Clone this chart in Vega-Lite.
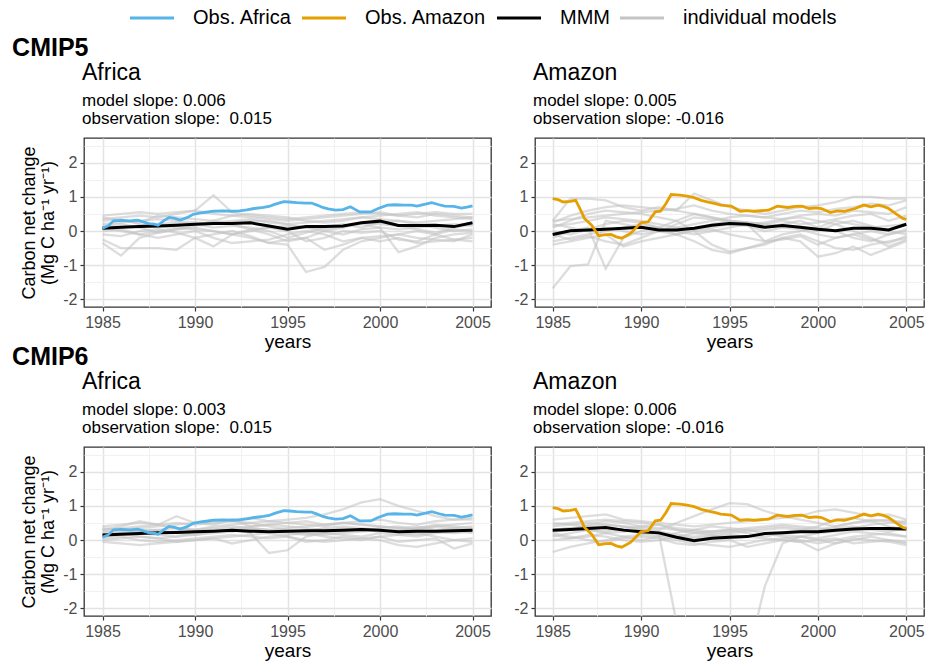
{
  "$schema": "https://vega.github.io/schema/vega-lite/v6.json",
  "background": "white",
  "padding": {"left": 12, "top": 5, "right": 6, "bottom": 2},
  "config": {
    "font": "Liberation Sans",
    "view": {"stroke": "#333333", "strokeWidth": 1.3},
    "axis": {
      "domain": false,
      "labelFont": "Liberation Sans",
      "labelFontSize": 16,
      "labelColor": "#4d4d4d",
      "tickColor": "#333333",
      "tickWidth": 1.2,
      "tickSize": 4,
      "labelPadding": 3,
      "titleFont": "Liberation Sans",
      "titleFontWeight": "normal",
      "titleColor": "black"
    },
    "axisX": {"titleFontSize": 19, "titlePadding": 2},
    "axisY": {"titleFontSize": 18, "titleLineHeight": 19, "titlePadding": 5},
    "title": {
      "anchor": "start",
      "frame": "group",
      "font": "Liberation Sans",
      "fontSize": 23,
      "fontWeight": "normal",
      "color": "black",
      "subtitleFont": "Liberation Sans",
      "subtitleFontSize": 17,
      "subtitleColor": "black",
      "subtitlePadding": 8,
      "subtitleLineHeight": 18,
      "offset": 11,
      "dx": -2
    },
    "legend": {
      "labelFont": "Liberation Sans",
      "labelFontSize": 20,
      "labelColor": "black"
    }
  },
  "resolve": {"scale": {"color": "shared"}, "legend": {"color": "shared"}},
  "spacing": -7,
  "datasets": {
    "obsAfrica": [
      {"t":1985.0,"v":0.08},{"t":1985.3,"v":0.15},{"t":1985.6,"v":0.30},{"t":1986.0,"v":0.31},{"t":1986.5,"v":0.30},
      {"t":1986.9,"v":0.32},{"t":1987.2,"v":0.27},{"t":1987.5,"v":0.22},{"t":1987.8,"v":0.20},{"t":1988.0,"v":0.17},
      {"t":1988.3,"v":0.30},{"t":1988.6,"v":0.40},{"t":1988.9,"v":0.37},{"t":1989.2,"v":0.32},{"t":1989.6,"v":0.40},
      {"t":1989.9,"v":0.49},{"t":1990.3,"v":0.53},{"t":1990.6,"v":0.55},{"t":1991.0,"v":0.58},{"t":1991.5,"v":0.59},
      {"t":1992.0,"v":0.58},{"t":1992.4,"v":0.59},{"t":1992.8,"v":0.62},{"t":1993.2,"v":0.66},{"t":1993.7,"v":0.69},
      {"t":1994.0,"v":0.72},{"t":1994.3,"v":0.78},{"t":1994.8,"v":0.86},{"t":1995.1,"v":0.85},{"t":1995.5,"v":0.83},
      {"t":1996.0,"v":0.82},{"t":1996.3,"v":0.82},{"t":1996.6,"v":0.76},{"t":1996.9,"v":0.69},{"t":1997.2,"v":0.65},
      {"t":1997.6,"v":0.61},{"t":1998.0,"v":0.63},{"t":1998.4,"v":0.71},{"t":1998.7,"v":0.62},{"t":1998.9,"v":0.56},
      {"t":1999.5,"v":0.56},{"t":1999.9,"v":0.66},{"t":2000.4,"v":0.76},{"t":2000.8,"v":0.77},{"t":2001.3,"v":0.76},
      {"t":2001.7,"v":0.76},{"t":2002.0,"v":0.73},{"t":2002.4,"v":0.78},{"t":2002.8,"v":0.83},{"t":2003.2,"v":0.77},
      {"t":2003.5,"v":0.73},{"t":2004.0,"v":0.72},{"t":2004.4,"v":0.67},{"t":2004.7,"v":0.70},{"t":2005.0,"v":0.74}
    ],
    "obsAmazon": [
      {"t":1985.0,"v":0.95},{"t":1985.3,"v":0.92},{"t":1985.6,"v":0.85},{"t":1986.0,"v":0.87},{"t":1986.3,"v":0.90},
      {"t":1986.5,"v":0.70},{"t":1986.8,"v":0.37},{"t":1987.2,"v":0.17},{"t":1987.6,"v":-0.14},{"t":1987.9,"v":-0.11},
      {"t":1988.3,"v":-0.10},{"t":1988.6,"v":-0.17},{"t":1988.9,"v":-0.21},{"t":1989.4,"v":-0.07},{"t":1990.0,"v":0.24},
      {"t":1990.4,"v":0.27},{"t":1990.8,"v":0.56},{"t":1991.1,"v":0.58},{"t":1991.4,"v":0.80},{"t":1991.7,"v":1.07},
      {"t":1992.2,"v":1.05},{"t":1992.6,"v":1.02},{"t":1993.0,"v":0.98},{"t":1993.4,"v":0.90},{"t":1993.8,"v":0.85},
      {"t":1994.2,"v":0.80},{"t":1994.5,"v":0.76},{"t":1995.1,"v":0.73},{"t":1995.6,"v":0.58},{"t":1996.0,"v":0.60},
      {"t":1996.4,"v":0.58},{"t":1997.2,"v":0.61},{"t":1997.7,"v":0.73},{"t":1998.3,"v":0.69},{"t":1998.7,"v":0.72},
      {"t":1999.1,"v":0.73},{"t":1999.5,"v":0.66},{"t":1999.9,"v":0.68},{"t":2000.2,"v":0.66},{"t":2000.7,"v":0.54},
      {"t":2001.1,"v":0.59},{"t":2001.5,"v":0.58},{"t":2002.1,"v":0.66},{"t":2002.6,"v":0.76},{"t":2003.0,"v":0.71},
      {"t":2003.4,"v":0.76},{"t":2003.7,"v":0.72},{"t":2004.0,"v":0.66},{"t":2004.4,"v":0.51},{"t":2004.8,"v":0.37},
      {"t":2005.0,"v":0.34}
    ],
    "mmm5af": [
      {"t":1985,"v":0.08},{"t":1986,"v":0.11},{"t":1987,"v":0.13},{"t":1988,"v":0.15},{"t":1989,"v":0.17},{"t":1990,"v":0.20},{"t":1991,"v":0.22},
      {"t":1992,"v":0.22},{"t":1993,"v":0.24},{"t":1994,"v":0.15},{"t":1995,"v":0.05},{"t":1996,"v":0.13},{"t":1997,"v":0.13},{"t":1998,"v":0.15},
      {"t":1999,"v":0.24},{"t":2000,"v":0.29},{"t":2001,"v":0.16},{"t":2002,"v":0.16},{"t":2003,"v":0.17},{"t":2004,"v":0.13},{"t":2005,"v":0.24}
    ],
    "mmm5am": [
      {"t":1985,"v":-0.10},{"t":1986,"v":0.01},{"t":1987,"v":0.03},{"t":1988,"v":0.05},{"t":1989,"v":0.08},{"t":1990,"v":0.11},{"t":1991,"v":0.03},
      {"t":1992,"v":0.03},{"t":1993,"v":0.08},{"t":1994,"v":0.17},{"t":1995,"v":0.22},{"t":1996,"v":0.20},{"t":1997,"v":0.11},{"t":1998,"v":0.16},
      {"t":1999,"v":0.11},{"t":2000,"v":0.05},{"t":2001,"v":0.01},{"t":2002,"v":0.08},{"t":2003,"v":0.08},{"t":2004,"v":0.03},{"t":2005,"v":0.20}
    ],
    "mmm6af": [
      {"t":1985,"v":0.15},{"t":1986,"v":0.17},{"t":1987,"v":0.19},{"t":1988,"v":0.21},{"t":1989,"v":0.22},{"t":1990,"v":0.24},{"t":1991,"v":0.26},
      {"t":1992,"v":0.29},{"t":1993,"v":0.26},{"t":1994,"v":0.24},{"t":1995,"v":0.26},{"t":1996,"v":0.27},{"t":1997,"v":0.27},{"t":1998,"v":0.29},
      {"t":1999,"v":0.31},{"t":2000,"v":0.29},{"t":2001,"v":0.24},{"t":2002,"v":0.26},{"t":2003,"v":0.26},{"t":2004,"v":0.27},{"t":2005,"v":0.29}
    ],
    "mmm6am": [
      {"t":1985,"v":0.29},{"t":1986,"v":0.31},{"t":1987,"v":0.34},{"t":1988,"v":0.37},{"t":1989,"v":0.29},{"t":1990,"v":0.24},{"t":1991,"v":0.21},
      {"t":1992,"v":0.08},{"t":1993,"v":-0.02},{"t":1994,"v":0.05},{"t":1995,"v":0.08},{"t":1996,"v":0.10},{"t":1997,"v":0.19},{"t":1998,"v":0.21},
      {"t":1999,"v":0.24},{"t":2000,"v":0.24},{"t":2001,"v":0.29},{"t":2002,"v":0.32},{"t":2003,"v":0.34},{"t":2004,"v":0.34},{"t":2005,"v":0.32}
    ],
    "mod5af": [
      {"m":1,"t":1985,"v":0.35},{"m":1,"t":1986,"v":0.4},{"m":1,"t":1987,"v":0.45},{"m":1,"t":1988,"v":0.4},{"m":1,"t":1989,"v":0.5},{"m":1,"t":1990,"v":0.6},{"m":1,"t":1991,"v":1.05},{"m":1,"t":1992,"v":0.55},{"m":1,"t":1993,"v":0.45},{"m":1,"t":1994,"v":0.4},{"m":1,"t":1995,"v":0.35},{"m":1,"t":1996,"v":0.4},{"m":1,"t":1997,"v":0.45},{"m":1,"t":1998,"v":0.5},{"m":1,"t":1999,"v":0.55},{"m":1,"t":2000,"v":0.5},{"m":1,"t":2001,"v":0.45},{"m":1,"t":2002,"v":0.5},{"m":1,"t":2003,"v":0.55},{"m":1,"t":2004,"v":0.5},{"m":1,"t":2005,"v":0.5},
      {"m":2,"t":1985,"v":0.0},{"m":2,"t":1986,"v":0.05},{"m":2,"t":1987,"v":-0.1},{"m":2,"t":1988,"v":0.0},{"m":2,"t":1989,"v":0.1},{"m":2,"t":1990,"v":0.05},{"m":2,"t":1991,"v":0.0},{"m":2,"t":1992,"v":-0.1},{"m":2,"t":1993,"v":-0.2},{"m":2,"t":1994,"v":-0.35},{"m":2,"t":1995,"v":-0.4},{"m":2,"t":1996,"v":-1.2},{"m":2,"t":1997,"v":-1.05},{"m":2,"t":1998,"v":-0.55},{"m":2,"t":1999,"v":-0.3},{"m":2,"t":2000,"v":-0.2},{"m":2,"t":2001,"v":-0.1},{"m":2,"t":2002,"v":0.0},{"m":2,"t":2003,"v":-0.1},{"m":2,"t":2004,"v":0.05},{"m":2,"t":2005,"v":0.0},
      {"m":3,"t":1985,"v":-0.35},{"m":3,"t":1986,"v":-0.72},{"m":3,"t":1987,"v":-0.2},{"m":3,"t":1988,"v":-0.05},{"m":3,"t":1989,"v":0.05},{"m":3,"t":1990,"v":0.1},{"m":3,"t":1991,"v":0.0},{"m":3,"t":1992,"v":-0.1},{"m":3,"t":1993,"v":0.0},{"m":3,"t":1994,"v":0.1},{"m":3,"t":1995,"v":0.15},{"m":3,"t":1996,"v":0.1},{"m":3,"t":1997,"v":0.0},{"m":3,"t":1998,"v":-0.1},{"m":3,"t":1999,"v":0.05},{"m":3,"t":2000,"v":0.1},{"m":3,"t":2001,"v":-0.62},{"m":3,"t":2002,"v":-0.45},{"m":3,"t":2003,"v":-0.2},{"m":3,"t":2004,"v":-0.1},{"m":3,"t":2005,"v":-0.05},
      {"m":4,"t":1985,"v":-0.25},{"m":4,"t":1986,"v":-0.5},{"m":4,"t":1987,"v":-0.5},{"m":4,"t":1988,"v":-0.5},{"m":4,"t":1989,"v":-0.55},{"m":4,"t":1990,"v":-0.2},{"m":4,"t":1991,"v":-0.1},{"m":4,"t":1992,"v":0.0},{"m":4,"t":1993,"v":-0.15},{"m":4,"t":1994,"v":-0.35},{"m":4,"t":1995,"v":-0.25},{"m":4,"t":1996,"v":-0.2},{"m":4,"t":1997,"v":-0.55},{"m":4,"t":1998,"v":-0.4},{"m":4,"t":1999,"v":-0.2},{"m":4,"t":2000,"v":-0.3},{"m":4,"t":2001,"v":-0.2},{"m":4,"t":2002,"v":-0.35},{"m":4,"t":2003,"v":-0.3},{"m":4,"t":2004,"v":-0.25},{"m":4,"t":2005,"v":-0.2},
      {"m":5,"t":1985,"v":0.45},{"m":5,"t":1986,"v":0.5},{"m":5,"t":1987,"v":0.55},{"m":5,"t":1988,"v":0.5},{"m":5,"t":1989,"v":0.55},{"m":5,"t":1990,"v":0.6},{"m":5,"t":1991,"v":0.5},{"m":5,"t":1992,"v":0.45},{"m":5,"t":1993,"v":0.4},{"m":5,"t":1994,"v":0.35},{"m":5,"t":1995,"v":0.3},{"m":5,"t":1996,"v":0.35},{"m":5,"t":1997,"v":0.4},{"m":5,"t":1998,"v":0.45},{"m":5,"t":1999,"v":0.5},{"m":5,"t":2000,"v":0.55},{"m":5,"t":2001,"v":0.45},{"m":5,"t":2002,"v":0.4},{"m":5,"t":2003,"v":0.5},{"m":5,"t":2004,"v":0.45},{"m":5,"t":2005,"v":0.4},
      {"m":6,"t":1985,"v":0.2},{"m":6,"t":1986,"v":0.25},{"m":6,"t":1987,"v":0.3},{"m":6,"t":1988,"v":0.35},{"m":6,"t":1989,"v":0.3},{"m":6,"t":1990,"v":0.25},{"m":6,"t":1991,"v":0.2},{"m":6,"t":1992,"v":0.25},{"m":6,"t":1993,"v":0.3},{"m":6,"t":1994,"v":0.3},{"m":6,"t":1995,"v":0.2},{"m":6,"t":1996,"v":0.25},{"m":6,"t":1997,"v":0.3},{"m":6,"t":1998,"v":0.35},{"m":6,"t":1999,"v":0.4},{"m":6,"t":2000,"v":0.35},{"m":6,"t":2001,"v":0.3},{"m":6,"t":2002,"v":0.25},{"m":6,"t":2003,"v":0.3},{"m":6,"t":2004,"v":0.35},{"m":6,"t":2005,"v":0.4},
      {"m":7,"t":1985,"v":0.1},{"m":7,"t":1986,"v":0.0},{"m":7,"t":1987,"v":-0.1},{"m":7,"t":1988,"v":-0.2},{"m":7,"t":1989,"v":-0.1},{"m":7,"t":1990,"v":0.0},{"m":7,"t":1991,"v":-0.2},{"m":7,"t":1992,"v":-0.35},{"m":7,"t":1993,"v":-0.3},{"m":7,"t":1994,"v":-0.25},{"m":7,"t":1995,"v":-0.1},{"m":7,"t":1996,"v":0.0},{"m":7,"t":1997,"v":-0.1},{"m":7,"t":1998,"v":-0.3},{"m":7,"t":1999,"v":-0.2},{"m":7,"t":2000,"v":-0.15},{"m":7,"t":2001,"v":-0.1},{"m":7,"t":2002,"v":-0.2},{"m":7,"t":2003,"v":-0.25},{"m":7,"t":2004,"v":-0.3},{"m":7,"t":2005,"v":-0.1},
      {"m":8,"t":1985,"v":0.3},{"m":8,"t":1986,"v":0.35},{"m":8,"t":1987,"v":0.2},{"m":8,"t":1988,"v":0.1},{"m":8,"t":1989,"v":0.15},{"m":8,"t":1990,"v":0.2},{"m":8,"t":1991,"v":0.25},{"m":8,"t":1992,"v":0.3},{"m":8,"t":1993,"v":0.35},{"m":8,"t":1994,"v":0.25},{"m":8,"t":1995,"v":0.2},{"m":8,"t":1996,"v":0.1},{"m":8,"t":1997,"v":0.05},{"m":8,"t":1998,"v":0.15},{"m":8,"t":1999,"v":0.2},{"m":8,"t":2000,"v":0.1},{"m":8,"t":2001,"v":0.05},{"m":8,"t":2002,"v":0.1},{"m":8,"t":2003,"v":0.15},{"m":8,"t":2004,"v":0.2},{"m":8,"t":2005,"v":0.15},
      {"m":9,"t":1985,"v":0.05},{"m":9,"t":1986,"v":0.1},{"m":9,"t":1987,"v":0.15},{"m":9,"t":1988,"v":0.2},{"m":9,"t":1989,"v":0.25},{"m":9,"t":1990,"v":0.2},{"m":9,"t":1991,"v":0.1},{"m":9,"t":1992,"v":0.15},{"m":9,"t":1993,"v":0.1},{"m":9,"t":1994,"v":0.0},{"m":9,"t":1995,"v":-0.2},{"m":9,"t":1996,"v":-0.05},{"m":9,"t":1997,"v":0.1},{"m":9,"t":1998,"v":0.2},{"m":9,"t":1999,"v":0.1},{"m":9,"t":2000,"v":0.25},{"m":9,"t":2001,"v":0.3},{"m":9,"t":2002,"v":0.2},{"m":9,"t":2003,"v":0.1},{"m":9,"t":2004,"v":0.0},{"m":9,"t":2005,"v":0.05},
      {"m":10,"t":1985,"v":-0.1},{"m":10,"t":1986,"v":-0.15},{"m":10,"t":1987,"v":0.0},{"m":10,"t":1988,"v":0.05},{"m":10,"t":1989,"v":-0.05},{"m":10,"t":1990,"v":-0.2},{"m":10,"t":1991,"v":-0.45},{"m":10,"t":1992,"v":-0.1},{"m":10,"t":1993,"v":0.05},{"m":10,"t":1994,"v":0.1},{"m":10,"t":1995,"v":0.0},{"m":10,"t":1996,"v":-0.3},{"m":10,"t":1997,"v":-0.2},{"m":10,"t":1998,"v":0.0},{"m":10,"t":1999,"v":-0.05},{"m":10,"t":2000,"v":0.0},{"m":10,"t":2001,"v":-0.25},{"m":10,"t":2002,"v":-0.3},{"m":10,"t":2003,"v":-0.1},{"m":10,"t":2004,"v":-0.25},{"m":10,"t":2005,"v":-0.3},
      {"m":11,"t":1985,"v":0.4},{"m":11,"t":1986,"v":0.3},{"m":11,"t":1987,"v":0.25},{"m":11,"t":1988,"v":0.45},{"m":11,"t":1989,"v":0.4},{"m":11,"t":1990,"v":0.35},{"m":11,"t":1991,"v":0.3},{"m":11,"t":1992,"v":0.45},{"m":11,"t":1993,"v":0.5},{"m":11,"t":1994,"v":0.45},{"m":11,"t":1995,"v":0.4},{"m":11,"t":1996,"v":0.3},{"m":11,"t":1997,"v":0.25},{"m":11,"t":1998,"v":0.3},{"m":11,"t":1999,"v":0.4},{"m":11,"t":2000,"v":0.45},{"m":11,"t":2001,"v":0.5},{"m":11,"t":2002,"v":0.55},{"m":11,"t":2003,"v":0.45},{"m":11,"t":2004,"v":0.4},{"m":11,"t":2005,"v":0.35},
      {"m":12,"t":1985,"v":0.15},{"m":12,"t":1986,"v":0.2},{"m":12,"t":1987,"v":0.1},{"m":12,"t":1988,"v":-0.05},{"m":12,"t":1989,"v":0.05},{"m":12,"t":1990,"v":0.15},{"m":12,"t":1991,"v":0.3},{"m":12,"t":1992,"v":0.2},{"m":12,"t":1993,"v":0.05},{"m":12,"t":1994,"v":-0.1},{"m":12,"t":1995,"v":-0.3},{"m":12,"t":1996,"v":-0.2},{"m":12,"t":1997,"v":0.0},{"m":12,"t":1998,"v":0.1},{"m":12,"t":1999,"v":0.25},{"m":12,"t":2000,"v":0.2},{"m":12,"t":2001,"v":0.15},{"m":12,"t":2002,"v":0.05},{"m":12,"t":2003,"v":-0.05},{"m":12,"t":2004,"v":0.1},{"m":12,"t":2005,"v":0.2}
    ],
    "mod5am": [
      {"m":1,"t":1985,"v":-1.68},{"m":1,"t":1986,"v":-1.03},{"m":1,"t":1987,"v":-0.98},{"m":1,"t":1988,"v":0.3},{"m":1,"t":1989,"v":0.2},{"m":1,"t":1990,"v":0.1},{"m":1,"t":1991,"v":0.0},{"m":1,"t":1992,"v":-0.1},{"m":1,"t":1993,"v":0.05},{"m":1,"t":1994,"v":0.1},{"m":1,"t":1995,"v":0.2},{"m":1,"t":1996,"v":0.15},{"m":1,"t":1997,"v":0.0},{"m":1,"t":1998,"v":0.1},{"m":1,"t":1999,"v":0.05},{"m":1,"t":2000,"v":-0.1},{"m":1,"t":2001,"v":-0.2},{"m":1,"t":2002,"v":-0.1},{"m":1,"t":2003,"v":0.0},{"m":1,"t":2004,"v":-0.1},{"m":1,"t":2005,"v":0.05},
      {"m":2,"t":1985,"v":-0.2},{"m":2,"t":1986,"v":0.0},{"m":2,"t":1987,"v":0.1},{"m":2,"t":1988,"v":-1.1},{"m":2,"t":1989,"v":-0.2},{"m":2,"t":1990,"v":0.0},{"m":2,"t":1991,"v":0.1},{"m":2,"t":1992,"v":0.3},{"m":2,"t":1993,"v":0.5},{"m":2,"t":1994,"v":0.4},{"m":2,"t":1995,"v":0.3},{"m":2,"t":1996,"v":0.2},{"m":2,"t":1997,"v":0.1},{"m":2,"t":1998,"v":0.2},{"m":2,"t":1999,"v":0.3},{"m":2,"t":2000,"v":0.1},{"m":2,"t":2001,"v":0.0},{"m":2,"t":2002,"v":-0.2},{"m":2,"t":2003,"v":-0.3},{"m":2,"t":2004,"v":-0.1},{"m":2,"t":2005,"v":0.0},
      {"m":3,"t":1985,"v":0.3},{"m":3,"t":1986,"v":0.95},{"m":3,"t":1987,"v":0.95},{"m":3,"t":1988,"v":0.9},{"m":3,"t":1989,"v":0.7},{"m":3,"t":1990,"v":0.6},{"m":3,"t":1991,"v":0.7},{"m":3,"t":1992,"v":0.6},{"m":3,"t":1993,"v":1.1},{"m":3,"t":1994,"v":0.9},{"m":3,"t":1995,"v":0.7},{"m":3,"t":1996,"v":0.6},{"m":3,"t":1997,"v":0.5},{"m":3,"t":1998,"v":0.6},{"m":3,"t":1999,"v":0.7},{"m":3,"t":2000,"v":0.75},{"m":3,"t":2001,"v":0.85},{"m":3,"t":2002,"v":1.0},{"m":3,"t":2003,"v":1.0},{"m":3,"t":2004,"v":0.95},{"m":3,"t":2005,"v":0.95},
      {"m":4,"t":1985,"v":0.1},{"m":4,"t":1986,"v":0.3},{"m":4,"t":1987,"v":0.5},{"m":4,"t":1988,"v":0.6},{"m":4,"t":1989,"v":0.55},{"m":4,"t":1990,"v":0.5},{"m":4,"t":1991,"v":0.4},{"m":4,"t":1992,"v":0.3},{"m":4,"t":1993,"v":0.0},{"m":4,"t":1994,"v":-0.4},{"m":4,"t":1995,"v":-0.6},{"m":4,"t":1996,"v":-0.5},{"m":4,"t":1997,"v":-0.4},{"m":4,"t":1998,"v":-0.2},{"m":4,"t":1999,"v":-0.1},{"m":4,"t":2000,"v":-0.3},{"m":4,"t":2001,"v":-0.5},{"m":4,"t":2002,"v":-0.55},{"m":4,"t":2003,"v":-0.4},{"m":4,"t":2004,"v":-0.3},{"m":4,"t":2005,"v":-0.2},
      {"m":5,"t":1985,"v":-0.3},{"m":5,"t":1986,"v":-0.2},{"m":5,"t":1987,"v":-0.1},{"m":5,"t":1988,"v":0.0},{"m":5,"t":1989,"v":0.1},{"m":5,"t":1990,"v":0.2},{"m":5,"t":1991,"v":0.1},{"m":5,"t":1992,"v":-0.1},{"m":5,"t":1993,"v":-0.3},{"m":5,"t":1994,"v":-0.55},{"m":5,"t":1995,"v":-0.65},{"m":5,"t":1996,"v":-0.5},{"m":5,"t":1997,"v":-0.35},{"m":5,"t":1998,"v":-0.2},{"m":5,"t":1999,"v":-0.3},{"m":5,"t":2000,"v":-0.75},{"m":5,"t":2001,"v":-0.65},{"m":5,"t":2002,"v":-0.45},{"m":5,"t":2003,"v":-0.7},{"m":5,"t":2004,"v":-0.5},{"m":5,"t":2005,"v":-0.3},
      {"m":6,"t":1985,"v":0.15},{"m":6,"t":1986,"v":0.2},{"m":6,"t":1987,"v":0.3},{"m":6,"t":1988,"v":0.4},{"m":6,"t":1989,"v":0.35},{"m":6,"t":1990,"v":0.3},{"m":6,"t":1991,"v":0.2},{"m":6,"t":1992,"v":0.1},{"m":6,"t":1993,"v":0.2},{"m":6,"t":1994,"v":0.3},{"m":6,"t":1995,"v":0.4},{"m":6,"t":1996,"v":0.45},{"m":6,"t":1997,"v":0.4},{"m":6,"t":1998,"v":0.35},{"m":6,"t":1999,"v":0.45},{"m":6,"t":2000,"v":0.5},{"m":6,"t":2001,"v":0.45},{"m":6,"t":2002,"v":0.6},{"m":6,"t":2003,"v":0.55},{"m":6,"t":2004,"v":0.5},{"m":6,"t":2005,"v":0.7},
      {"m":7,"t":1985,"v":0.0},{"m":7,"t":1986,"v":-0.1},{"m":7,"t":1987,"v":0.05},{"m":7,"t":1988,"v":0.2},{"m":7,"t":1989,"v":0.3},{"m":7,"t":1990,"v":0.25},{"m":7,"t":1991,"v":0.1},{"m":7,"t":1992,"v":0.0},{"m":7,"t":1993,"v":-0.1},{"m":7,"t":1994,"v":0.0},{"m":7,"t":1995,"v":0.1},{"m":7,"t":1996,"v":0.2},{"m":7,"t":1997,"v":-0.3},{"m":7,"t":1998,"v":-0.1},{"m":7,"t":1999,"v":0.0},{"m":7,"t":2000,"v":0.1},{"m":7,"t":2001,"v":0.3},{"m":7,"t":2002,"v":0.2},{"m":7,"t":2003,"v":0.1},{"m":7,"t":2004,"v":0.15},{"m":7,"t":2005,"v":0.2},
      {"m":8,"t":1985,"v":0.3},{"m":8,"t":1986,"v":0.35},{"m":8,"t":1987,"v":0.4},{"m":8,"t":1988,"v":0.45},{"m":8,"t":1989,"v":0.5},{"m":8,"t":1990,"v":0.55},{"m":8,"t":1991,"v":0.6},{"m":8,"t":1992,"v":0.65},{"m":8,"t":1993,"v":0.75},{"m":8,"t":1994,"v":0.6},{"m":8,"t":1995,"v":0.5},{"m":8,"t":1996,"v":0.45},{"m":8,"t":1997,"v":0.4},{"m":8,"t":1998,"v":0.5},{"m":8,"t":1999,"v":0.6},{"m":8,"t":2000,"v":0.55},{"m":8,"t":2001,"v":0.65},{"m":8,"t":2002,"v":0.7},{"m":8,"t":2003,"v":0.8},{"m":8,"t":2004,"v":0.75},{"m":8,"t":2005,"v":0.9},
      {"m":9,"t":1985,"v":-0.4},{"m":9,"t":1986,"v":-0.3},{"m":9,"t":1987,"v":-0.2},{"m":9,"t":1988,"v":-0.1},{"m":9,"t":1989,"v":-0.45},{"m":9,"t":1990,"v":-0.3},{"m":9,"t":1991,"v":-0.2},{"m":9,"t":1992,"v":-0.1},{"m":9,"t":1993,"v":0.0},{"m":9,"t":1994,"v":0.05},{"m":9,"t":1995,"v":-0.1},{"m":9,"t":1996,"v":-0.2},{"m":9,"t":1997,"v":-0.3},{"m":9,"t":1998,"v":-0.25},{"m":9,"t":1999,"v":-0.15},{"m":9,"t":2000,"v":-0.4},{"m":9,"t":2001,"v":-0.2},{"m":9,"t":2002,"v":-0.1},{"m":9,"t":2003,"v":-0.25},{"m":9,"t":2004,"v":-0.35},{"m":9,"t":2005,"v":-0.15},
      {"m":10,"t":1985,"v":0.2},{"m":10,"t":1986,"v":0.1},{"m":10,"t":1987,"v":0.0},{"m":10,"t":1988,"v":0.1},{"m":10,"t":1989,"v":0.0},{"m":10,"t":1990,"v":-0.1},{"m":10,"t":1991,"v":0.0},{"m":10,"t":1992,"v":0.1},{"m":10,"t":1993,"v":0.05},{"m":10,"t":1994,"v":0.2},{"m":10,"t":1995,"v":0.3},{"m":10,"t":1996,"v":0.25},{"m":10,"t":1997,"v":0.2},{"m":10,"t":1998,"v":0.15},{"m":10,"t":1999,"v":0.1},{"m":10,"t":2000,"v":0.0},{"m":10,"t":2001,"v":0.2},{"m":10,"t":2002,"v":0.3},{"m":10,"t":2003,"v":0.15},{"m":10,"t":2004,"v":0.0},{"m":10,"t":2005,"v":-0.1},
      {"m":11,"t":1985,"v":-0.1},{"m":11,"t":1986,"v":-0.25},{"m":11,"t":1987,"v":-0.15},{"m":11,"t":1988,"v":-0.3},{"m":11,"t":1989,"v":-0.4},{"m":11,"t":1990,"v":-0.2},{"m":11,"t":1991,"v":0.0},{"m":11,"t":1992,"v":0.2},{"m":11,"t":1993,"v":0.4},{"m":11,"t":1994,"v":0.35},{"m":11,"t":1995,"v":0.3},{"m":11,"t":1996,"v":0.2},{"m":11,"t":1997,"v":0.25},{"m":11,"t":1998,"v":0.35},{"m":11,"t":1999,"v":0.4},{"m":11,"t":2000,"v":0.3},{"m":11,"t":2001,"v":0.2},{"m":11,"t":2002,"v":0.0},{"m":11,"t":2003,"v":-0.2},{"m":11,"t":2004,"v":-0.45},{"m":11,"t":2005,"v":-0.25},
      {"m":12,"t":1985,"v":0.25},{"m":12,"t":1986,"v":0.45},{"m":12,"t":1987,"v":0.6},{"m":12,"t":1988,"v":0.7},{"m":12,"t":1989,"v":0.75},{"m":12,"t":1990,"v":0.7},{"m":12,"t":1991,"v":0.65},{"m":12,"t":1992,"v":0.6},{"m":12,"t":1993,"v":0.5},{"m":12,"t":1994,"v":0.4},{"m":12,"t":1995,"v":0.3},{"m":12,"t":1996,"v":0.25},{"m":12,"t":1997,"v":0.2},{"m":12,"t":1998,"v":0.3},{"m":12,"t":1999,"v":0.2},{"m":12,"t":2000,"v":0.25},{"m":12,"t":2001,"v":0.35},{"m":12,"t":2002,"v":0.45},{"m":12,"t":2003,"v":0.5},{"m":12,"t":2004,"v":0.3},{"m":12,"t":2005,"v":0.45}
    ],
    "mod6af": [
      {"m":1,"t":1985,"v":0.3},{"m":1,"t":1986,"v":0.35},{"m":1,"t":1987,"v":0.4},{"m":1,"t":1988,"v":0.45},{"m":1,"t":1989,"v":0.5},{"m":1,"t":1990,"v":0.45},{"m":1,"t":1991,"v":0.5},{"m":1,"t":1992,"v":0.55},{"m":1,"t":1993,"v":0.5},{"m":1,"t":1994,"v":0.55},{"m":1,"t":1995,"v":0.6},{"m":1,"t":1996,"v":0.65},{"m":1,"t":1997,"v":0.75},{"m":1,"t":1998,"v":0.9},{"m":1,"t":1999,"v":1.1},{"m":1,"t":2000,"v":1.2},{"m":1,"t":2001,"v":1.0},{"m":1,"t":2002,"v":0.85},{"m":1,"t":2003,"v":0.7},{"m":1,"t":2004,"v":0.6},{"m":1,"t":2005,"v":0.6},
      {"m":2,"t":1985,"v":0.1},{"m":2,"t":1986,"v":0.15},{"m":2,"t":1987,"v":0.2},{"m":2,"t":1988,"v":0.15},{"m":2,"t":1989,"v":0.1},{"m":2,"t":1990,"v":0.2},{"m":2,"t":1991,"v":0.25},{"m":2,"t":1992,"v":0.3},{"m":2,"t":1993,"v":0.2},{"m":2,"t":1994,"v":-0.38},{"m":2,"t":1995,"v":-0.3},{"m":2,"t":1996,"v":0.1},{"m":2,"t":1997,"v":0.2},{"m":2,"t":1998,"v":0.15},{"m":2,"t":1999,"v":0.1},{"m":2,"t":2000,"v":0.2},{"m":2,"t":2001,"v":0.15},{"m":2,"t":2002,"v":0.1},{"m":2,"t":2003,"v":0.2},{"m":2,"t":2004,"v":0.25},{"m":2,"t":2005,"v":0.3},
      {"m":3,"t":1985,"v":0.0},{"m":3,"t":1986,"v":0.05},{"m":3,"t":1987,"v":0.1},{"m":3,"t":1988,"v":0.05},{"m":3,"t":1989,"v":-0.05},{"m":3,"t":1990,"v":0.0},{"m":3,"t":1991,"v":0.05},{"m":3,"t":1992,"v":0.1},{"m":3,"t":1993,"v":0.15},{"m":3,"t":1994,"v":0.2},{"m":3,"t":1995,"v":0.1},{"m":3,"t":1996,"v":0.0},{"m":3,"t":1997,"v":-0.05},{"m":3,"t":1998,"v":0.0},{"m":3,"t":1999,"v":0.05},{"m":3,"t":2000,"v":0.1},{"m":3,"t":2001,"v":-0.05},{"m":3,"t":2002,"v":0.0},{"m":3,"t":2003,"v":0.05},{"m":3,"t":2004,"v":-0.25},{"m":3,"t":2005,"v":-0.1},
      {"m":4,"t":1985,"v":0.3},{"m":4,"t":1986,"v":0.4},{"m":4,"t":1987,"v":0.55},{"m":4,"t":1988,"v":0.45},{"m":4,"t":1989,"v":0.7},{"m":4,"t":1990,"v":0.5},{"m":4,"t":1991,"v":0.45},{"m":4,"t":1992,"v":0.6},{"m":4,"t":1993,"v":0.4},{"m":4,"t":1994,"v":0.45},{"m":4,"t":1995,"v":0.5},{"m":4,"t":1996,"v":0.55},{"m":4,"t":1997,"v":0.45},{"m":4,"t":1998,"v":0.5},{"m":4,"t":1999,"v":0.55},{"m":4,"t":2000,"v":0.6},{"m":4,"t":2001,"v":0.5},{"m":4,"t":2002,"v":0.45},{"m":4,"t":2003,"v":0.55},{"m":4,"t":2004,"v":0.6},{"m":4,"t":2005,"v":0.65},
      {"m":5,"t":1985,"v":0.2},{"m":5,"t":1986,"v":0.25},{"m":5,"t":1987,"v":0.3},{"m":5,"t":1988,"v":0.3},{"m":5,"t":1989,"v":0.35},{"m":5,"t":1990,"v":0.3},{"m":5,"t":1991,"v":0.3},{"m":5,"t":1992,"v":0.35},{"m":5,"t":1993,"v":0.4},{"m":5,"t":1994,"v":0.45},{"m":5,"t":1995,"v":0.4},{"m":5,"t":1996,"v":0.35},{"m":5,"t":1997,"v":0.3},{"m":5,"t":1998,"v":0.35},{"m":5,"t":1999,"v":0.3},{"m":5,"t":2000,"v":0.25},{"m":5,"t":2001,"v":0.3},{"m":5,"t":2002,"v":0.35},{"m":5,"t":2003,"v":0.4},{"m":5,"t":2004,"v":0.35},{"m":5,"t":2005,"v":0.3},
      {"m":6,"t":1985,"v":-0.05},{"m":6,"t":1986,"v":-0.1},{"m":6,"t":1987,"v":-0.15},{"m":6,"t":1988,"v":-0.1},{"m":6,"t":1989,"v":-0.05},{"m":6,"t":1990,"v":0.0},{"m":6,"t":1991,"v":0.05},{"m":6,"t":1992,"v":-0.1},{"m":6,"t":1993,"v":0.0},{"m":6,"t":1994,"v":0.1},{"m":6,"t":1995,"v":0.15},{"m":6,"t":1996,"v":0.2},{"m":6,"t":1997,"v":0.1},{"m":6,"t":1998,"v":0.05},{"m":6,"t":1999,"v":0.0},{"m":6,"t":2000,"v":0.1},{"m":6,"t":2001,"v":0.15},{"m":6,"t":2002,"v":0.2},{"m":6,"t":2003,"v":0.1},{"m":6,"t":2004,"v":0.0},{"m":6,"t":2005,"v":-0.05},
      {"m":7,"t":1985,"v":0.15},{"m":7,"t":1986,"v":0.2},{"m":7,"t":1987,"v":0.1},{"m":7,"t":1988,"v":0.05},{"m":7,"t":1989,"v":0.1},{"m":7,"t":1990,"v":0.15},{"m":7,"t":1991,"v":0.2},{"m":7,"t":1992,"v":0.25},{"m":7,"t":1993,"v":0.3},{"m":7,"t":1994,"v":0.25},{"m":7,"t":1995,"v":0.2},{"m":7,"t":1996,"v":0.15},{"m":7,"t":1997,"v":0.2},{"m":7,"t":1998,"v":0.25},{"m":7,"t":1999,"v":0.3},{"m":7,"t":2000,"v":0.35},{"m":7,"t":2001,"v":0.4},{"m":7,"t":2002,"v":0.3},{"m":7,"t":2003,"v":0.25},{"m":7,"t":2004,"v":0.2},{"m":7,"t":2005,"v":0.25},
      {"m":8,"t":1985,"v":0.25},{"m":8,"t":1986,"v":0.3},{"m":8,"t":1987,"v":0.35},{"m":8,"t":1988,"v":0.4},{"m":8,"t":1989,"v":0.45},{"m":8,"t":1990,"v":0.5},{"m":8,"t":1991,"v":0.55},{"m":8,"t":1992,"v":0.6},{"m":8,"t":1993,"v":0.65},{"m":8,"t":1994,"v":0.55},{"m":8,"t":1995,"v":0.5},{"m":8,"t":1996,"v":0.45},{"m":8,"t":1997,"v":0.4},{"m":8,"t":1998,"v":0.5},{"m":8,"t":1999,"v":0.45},{"m":8,"t":2000,"v":0.4},{"m":8,"t":2001,"v":0.35},{"m":8,"t":2002,"v":0.4},{"m":8,"t":2003,"v":0.3},{"m":8,"t":2004,"v":0.35},{"m":8,"t":2005,"v":0.4},
      {"m":9,"t":1985,"v":0.05},{"m":9,"t":1986,"v":0.1},{"m":9,"t":1987,"v":0.0},{"m":9,"t":1988,"v":-0.05},{"m":9,"t":1989,"v":0.0},{"m":9,"t":1990,"v":0.05},{"m":9,"t":1991,"v":0.1},{"m":9,"t":1992,"v":0.15},{"m":9,"t":1993,"v":0.1},{"m":9,"t":1994,"v":0.05},{"m":9,"t":1995,"v":0.1},{"m":9,"t":1996,"v":-0.05},{"m":9,"t":1997,"v":0.0},{"m":9,"t":1998,"v":0.1},{"m":9,"t":1999,"v":0.05},{"m":9,"t":2000,"v":0.0},{"m":9,"t":2001,"v":-0.15},{"m":9,"t":2002,"v":-0.2},{"m":9,"t":2003,"v":-0.1},{"m":9,"t":2004,"v":0.0},{"m":9,"t":2005,"v":0.05},
      {"m":10,"t":1985,"v":0.35},{"m":10,"t":1986,"v":0.3},{"m":10,"t":1987,"v":0.25},{"m":10,"t":1988,"v":0.2},{"m":10,"t":1989,"v":0.25},{"m":10,"t":1990,"v":0.3},{"m":10,"t":1991,"v":0.35},{"m":10,"t":1992,"v":0.4},{"m":10,"t":1993,"v":0.35},{"m":10,"t":1994,"v":0.3},{"m":10,"t":1995,"v":0.35},{"m":10,"t":1996,"v":0.4},{"m":10,"t":1997,"v":0.45},{"m":10,"t":1998,"v":0.5},{"m":10,"t":1999,"v":0.45},{"m":10,"t":2000,"v":0.4},{"m":10,"t":2001,"v":0.35},{"m":10,"t":2002,"v":0.3},{"m":10,"t":2003,"v":0.4},{"m":10,"t":2004,"v":0.45},{"m":10,"t":2005,"v":0.5},
      {"m":11,"t":1985,"v":0.1},{"m":11,"t":1986,"v":0.2},{"m":11,"t":1987,"v":0.25},{"m":11,"t":1988,"v":0.3},{"m":11,"t":1989,"v":0.2},{"m":11,"t":1990,"v":0.15},{"m":11,"t":1991,"v":0.25},{"m":11,"t":1992,"v":0.3},{"m":11,"t":1993,"v":0.35},{"m":11,"t":1994,"v":0.3},{"m":11,"t":1995,"v":0.25},{"m":11,"t":1996,"v":0.2},{"m":11,"t":1997,"v":0.15},{"m":11,"t":1998,"v":0.2},{"m":11,"t":1999,"v":0.25},{"m":11,"t":2000,"v":0.3},{"m":11,"t":2001,"v":0.2},{"m":11,"t":2002,"v":0.15},{"m":11,"t":2003,"v":0.25},{"m":11,"t":2004,"v":0.3},{"m":11,"t":2005,"v":0.2},
      {"m":12,"t":1985,"v":0.4},{"m":12,"t":1986,"v":0.45},{"m":12,"t":1987,"v":0.5},{"m":12,"t":1988,"v":0.45},{"m":12,"t":1989,"v":0.35},{"m":12,"t":1990,"v":0.3},{"m":12,"t":1991,"v":0.4},{"m":12,"t":1992,"v":0.45},{"m":12,"t":1993,"v":0.5},{"m":12,"t":1994,"v":0.4},{"m":12,"t":1995,"v":0.3},{"m":12,"t":1996,"v":0.25},{"m":12,"t":1997,"v":0.35},{"m":12,"t":1998,"v":0.4},{"m":12,"t":1999,"v":0.35},{"m":12,"t":2000,"v":0.3},{"m":12,"t":2001,"v":0.25},{"m":12,"t":2002,"v":0.35},{"m":12,"t":2003,"v":0.45},{"m":12,"t":2004,"v":0.4},{"m":12,"t":2005,"v":0.35}
    ],
    "mod6am": [
      {"m":1,"t":1985,"v":0.3},{"m":1,"t":1986,"v":0.35},{"m":1,"t":1987,"v":0.4},{"m":1,"t":1988,"v":0.45},{"m":1,"t":1989,"v":0.4},{"m":1,"t":1990,"v":0.3},{"m":1,"t":1991,"v":0.2},{"m":1,"t":1992,"v":-2.4},{"m":1,"t":1993,"v":-3.2},{"m":1,"t":1994,"v":-3.6},{"m":1,"t":1995,"v":-3.8},{"m":1,"t":1996,"v":-3.5},{"m":1,"t":1997,"v":-1.35},{"m":1,"t":1998,"v":-0.1},{"m":1,"t":1999,"v":0.1},{"m":1,"t":2000,"v":0.2},{"m":1,"t":2001,"v":0.25},{"m":1,"t":2002,"v":0.3},{"m":1,"t":2003,"v":0.35},{"m":1,"t":2004,"v":0.3},{"m":1,"t":2005,"v":0.3},
      {"m":2,"t":1985,"v":0.4},{"m":2,"t":1986,"v":0.45},{"m":2,"t":1987,"v":0.5},{"m":2,"t":1988,"v":0.45},{"m":2,"t":1989,"v":0.4},{"m":2,"t":1990,"v":0.35},{"m":2,"t":1991,"v":0.3},{"m":2,"t":1992,"v":0.5},{"m":2,"t":1993,"v":0.7},{"m":2,"t":1994,"v":0.9},{"m":2,"t":1995,"v":1.08},{"m":2,"t":1996,"v":1.05},{"m":2,"t":1997,"v":0.85},{"m":2,"t":1998,"v":0.7},{"m":2,"t":1999,"v":0.6},{"m":2,"t":2000,"v":0.5},{"m":2,"t":2001,"v":0.4},{"m":2,"t":2002,"v":0.5},{"m":2,"t":2003,"v":0.55},{"m":2,"t":2004,"v":0.6},{"m":2,"t":2005,"v":0.5},
      {"m":3,"t":1985,"v":-0.35},{"m":3,"t":1986,"v":-0.2},{"m":3,"t":1987,"v":-0.1},{"m":3,"t":1988,"v":0.0},{"m":3,"t":1989,"v":0.1},{"m":3,"t":1990,"v":0.15},{"m":3,"t":1991,"v":0.1},{"m":3,"t":1992,"v":0.0},{"m":3,"t":1993,"v":-0.1},{"m":3,"t":1994,"v":-0.15},{"m":3,"t":1995,"v":-0.2},{"m":3,"t":1996,"v":-0.1},{"m":3,"t":1997,"v":0.0},{"m":3,"t":1998,"v":0.05},{"m":3,"t":1999,"v":0.1},{"m":3,"t":2000,"v":0.0},{"m":3,"t":2001,"v":-0.1},{"m":3,"t":2002,"v":0.0},{"m":3,"t":2003,"v":0.1},{"m":3,"t":2004,"v":0.0},{"m":3,"t":2005,"v":-0.1},
      {"m":4,"t":1985,"v":0.6},{"m":4,"t":1986,"v":0.65},{"m":4,"t":1987,"v":0.7},{"m":4,"t":1988,"v":0.75},{"m":4,"t":1989,"v":0.6},{"m":4,"t":1990,"v":0.55},{"m":4,"t":1991,"v":0.5},{"m":4,"t":1992,"v":0.45},{"m":4,"t":1993,"v":0.4},{"m":4,"t":1994,"v":0.45},{"m":4,"t":1995,"v":0.5},{"m":4,"t":1996,"v":0.55},{"m":4,"t":1997,"v":0.6},{"m":4,"t":1998,"v":0.65},{"m":4,"t":1999,"v":0.7},{"m":4,"t":2000,"v":0.85},{"m":4,"t":2001,"v":0.9},{"m":4,"t":2002,"v":0.8},{"m":4,"t":2003,"v":0.7},{"m":4,"t":2004,"v":0.75},{"m":4,"t":2005,"v":0.6},
      {"m":5,"t":1985,"v":0.1},{"m":5,"t":1986,"v":0.2},{"m":5,"t":1987,"v":0.3},{"m":5,"t":1988,"v":0.2},{"m":5,"t":1989,"v":0.1},{"m":5,"t":1990,"v":0.0},{"m":5,"t":1991,"v":0.1},{"m":5,"t":1992,"v":0.2},{"m":5,"t":1993,"v":0.3},{"m":5,"t":1994,"v":0.4},{"m":5,"t":1995,"v":0.35},{"m":5,"t":1996,"v":0.3},{"m":5,"t":1997,"v":0.2},{"m":5,"t":1998,"v":0.1},{"m":5,"t":1999,"v":0.0},{"m":5,"t":2000,"v":-0.1},{"m":5,"t":2001,"v":0.0},{"m":5,"t":2002,"v":0.1},{"m":5,"t":2003,"v":0.15},{"m":5,"t":2004,"v":0.2},{"m":5,"t":2005,"v":0.1},
      {"m":6,"t":1985,"v":0.45},{"m":6,"t":1986,"v":0.5},{"m":6,"t":1987,"v":0.55},{"m":6,"t":1988,"v":0.6},{"m":6,"t":1989,"v":0.55},{"m":6,"t":1990,"v":0.5},{"m":6,"t":1991,"v":0.45},{"m":6,"t":1992,"v":0.35},{"m":6,"t":1993,"v":0.3},{"m":6,"t":1994,"v":0.25},{"m":6,"t":1995,"v":0.3},{"m":6,"t":1996,"v":0.35},{"m":6,"t":1997,"v":0.4},{"m":6,"t":1998,"v":0.45},{"m":6,"t":1999,"v":0.4},{"m":6,"t":2000,"v":0.35},{"m":6,"t":2001,"v":0.3},{"m":6,"t":2002,"v":0.35},{"m":6,"t":2003,"v":0.45},{"m":6,"t":2004,"v":0.5},{"m":6,"t":2005,"v":0.55},
      {"m":7,"t":1985,"v":0.2},{"m":7,"t":1986,"v":0.1},{"m":7,"t":1987,"v":0.0},{"m":7,"t":1988,"v":-0.05},{"m":7,"t":1989,"v":0.05},{"m":7,"t":1990,"v":0.1},{"m":7,"t":1991,"v":0.05},{"m":7,"t":1992,"v":-0.1},{"m":7,"t":1993,"v":-0.15},{"m":7,"t":1994,"v":-0.05},{"m":7,"t":1995,"v":0.0},{"m":7,"t":1996,"v":-0.2},{"m":7,"t":1997,"v":-0.1},{"m":7,"t":1998,"v":0.0},{"m":7,"t":1999,"v":-0.05},{"m":7,"t":2000,"v":-0.3},{"m":7,"t":2001,"v":-0.1},{"m":7,"t":2002,"v":0.05},{"m":7,"t":2003,"v":0.0},{"m":7,"t":2004,"v":-0.05},{"m":7,"t":2005,"v":-0.15},
      {"m":8,"t":1985,"v":0.3},{"m":8,"t":1986,"v":0.35},{"m":8,"t":1987,"v":0.3},{"m":8,"t":1988,"v":0.25},{"m":8,"t":1989,"v":0.35},{"m":8,"t":1990,"v":0.4},{"m":8,"t":1991,"v":0.45},{"m":8,"t":1992,"v":0.3},{"m":8,"t":1993,"v":0.2},{"m":8,"t":1994,"v":0.15},{"m":8,"t":1995,"v":0.2},{"m":8,"t":1996,"v":0.25},{"m":8,"t":1997,"v":0.3},{"m":8,"t":1998,"v":0.35},{"m":8,"t":1999,"v":0.3},{"m":8,"t":2000,"v":0.25},{"m":8,"t":2001,"v":0.35},{"m":8,"t":2002,"v":0.4},{"m":8,"t":2003,"v":0.3},{"m":8,"t":2004,"v":0.25},{"m":8,"t":2005,"v":0.35},
      {"m":9,"t":1985,"v":0.0},{"m":9,"t":1986,"v":0.05},{"m":9,"t":1987,"v":0.15},{"m":9,"t":1988,"v":0.1},{"m":9,"t":1989,"v":0.0},{"m":9,"t":1990,"v":-0.05},{"m":9,"t":1991,"v":0.0},{"m":9,"t":1992,"v":0.1},{"m":9,"t":1993,"v":0.2},{"m":9,"t":1994,"v":0.25},{"m":9,"t":1995,"v":0.3},{"m":9,"t":1996,"v":0.2},{"m":9,"t":1997,"v":0.1},{"m":9,"t":1998,"v":0.2},{"m":9,"t":1999,"v":0.3},{"m":9,"t":2000,"v":0.4},{"m":9,"t":2001,"v":0.6},{"m":9,"t":2002,"v":0.65},{"m":9,"t":2003,"v":0.55},{"m":9,"t":2004,"v":0.4},{"m":9,"t":2005,"v":0.3},
      {"m":10,"t":1985,"v":0.5},{"m":10,"t":1986,"v":0.45},{"m":10,"t":1987,"v":0.4},{"m":10,"t":1988,"v":0.35},{"m":10,"t":1989,"v":0.3},{"m":10,"t":1990,"v":0.2},{"m":10,"t":1991,"v":0.15},{"m":10,"t":1992,"v":0.1},{"m":10,"t":1993,"v":0.05},{"m":10,"t":1994,"v":0.1},{"m":10,"t":1995,"v":0.15},{"m":10,"t":1996,"v":0.1},{"m":10,"t":1997,"v":0.05},{"m":10,"t":1998,"v":0.0},{"m":10,"t":1999,"v":-0.05},{"m":10,"t":2000,"v":0.0},{"m":10,"t":2001,"v":0.05},{"m":10,"t":2002,"v":-0.1},{"m":10,"t":2003,"v":-0.05},{"m":10,"t":2004,"v":0.0},{"m":10,"t":2005,"v":-0.05},
      {"m":11,"t":1985,"v":0.25},{"m":11,"t":1986,"v":0.3},{"m":11,"t":1987,"v":0.45},{"m":11,"t":1988,"v":0.55},{"m":11,"t":1989,"v":0.5},{"m":11,"t":1990,"v":0.4},{"m":11,"t":1991,"v":0.35},{"m":11,"t":1992,"v":0.3},{"m":11,"t":1993,"v":0.25},{"m":11,"t":1994,"v":0.2},{"m":11,"t":1995,"v":0.25},{"m":11,"t":1996,"v":0.3},{"m":11,"t":1997,"v":0.35},{"m":11,"t":1998,"v":0.4},{"m":11,"t":1999,"v":0.35},{"m":11,"t":2000,"v":0.3},{"m":11,"t":2001,"v":0.4},{"m":11,"t":2002,"v":0.5},{"m":11,"t":2003,"v":0.6},{"m":11,"t":2004,"v":0.55},{"m":11,"t":2005,"v":0.45},
      {"m":12,"t":1985,"v":0.15},{"m":12,"t":1986,"v":0.05},{"m":12,"t":1987,"v":0.1},{"m":12,"t":1988,"v":0.2},{"m":12,"t":1989,"v":0.25},{"m":12,"t":1990,"v":0.3},{"m":12,"t":1991,"v":0.25},{"m":12,"t":1992,"v":0.15},{"m":12,"t":1993,"v":0.1},{"m":12,"t":1994,"v":0.15},{"m":12,"t":1995,"v":0.05},{"m":12,"t":1996,"v":0.1},{"m":12,"t":1997,"v":0.2},{"m":12,"t":1998,"v":0.15},{"m":12,"t":1999,"v":0.1},{"m":12,"t":2000,"v":0.05},{"m":12,"t":2001,"v":0.15},{"m":12,"t":2002,"v":0.25},{"m":12,"t":2003,"v":0.2},{"m":12,"t":2004,"v":0.15},{"m":12,"t":2005,"v":0.1}
    ]
  },
  "vconcat": [
    {
      "title": {"text": "CMIP5", "fontSize": 25, "fontWeight": "bold", "anchor": "start", "frame": "bounds", "offset": 0, "dx": -8},
      "spacing": 21,
      "hconcat": [
        {
          "width": 407, "height": 169,
          "title": {"text": "Africa", "subtitle": ["model slope: 0.006", "observation slope: \u00a00.015"]},
          "encoding": {
            "x": {"field": "t", "type": "quantitative", "title": "years",
                  "scale": {"domain": [1984, 2006], "nice": false, "zero": false},
                  "axis": {"values": [1985, 1987.5, 1990, 1992.5, 1995, 1997.5, 2000, 2002.5, 2005],
                           "labelExpr": "datum.value % 5 === 0 ? '' + datum.value : ''",
                           "tickOpacity": {"condition": {"test": "datum.value % 5 !== 0", "value": 0}, "value": 1},
                           "gridColor": {"condition": {"test": "datum.value % 5 !== 0", "value": "#efefef"}, "value": "#e3e3e3"},
                           "gridWidth": {"condition": {"test": "datum.value % 5 !== 0", "value": 0.9}, "value": 1.5}}},
            "y": {"field": "v", "type": "quantitative", "title": ["Carbon net change", "(Mg C ha⁻¹ yr⁻¹)"],
                  "scale": {"domain": [-2.225, 2.725], "nice": false, "zero": false},
                  "axis": {"values": [-2, -1.5, -1, -0.5, 0, 0.5, 1, 1.5, 2, 2.5],
                           "labelExpr": "datum.value % 1 === 0 ? '' + datum.value : ''",
                           "tickOpacity": {"condition": {"test": "datum.value % 1 !== 0", "value": 0}, "value": 1},
                           "gridColor": {"condition": {"test": "datum.value % 1 !== 0", "value": "#efefef"}, "value": "#e3e3e3"},
                           "gridWidth": {"condition": {"test": "datum.value % 1 !== 0", "value": 0.9}, "value": 1.5}}}
          },
          "layer": [
            {"data": {"name": "mod5af"}, "mark": {"type": "line", "clip": true, "strokeWidth": 2.3, "opacity": 0.58},
             "encoding": {"detail": {"field": "m"},
                          "color": {"datum": "individual models",
                                    "scale": {"domain": ["Obs. Africa", "Obs. Amazon", "MMM", "individual models"], "range": ["#56B4E9", "#E69F00", "#000000", "#c4c4c4"]},
                                    "legend": {"orient": "none", "legendX": 55, "legendY": -133, "direction": "horizontal", "title": null,
                                               "symbolType": "M-2,0H2", "symbolStrokeWidth": 3.2, "symbolSize": 484, "symbolOpacity": 1,
                                               "symbolFillColor": "transparent",
                                               "labelOffset": 28, "columnPadding": 3,
                                               "encode": {"symbols": {"update": {"opacity": {"value": 1}, "strokeOpacity": {"value": 1}}}}}}}},
            {"data": {"name": "mmm5af"}, "mark": {"type": "line", "clip": true, "strokeWidth": 3},
             "encoding": {"color": {"datum": "MMM"}}},
            {"data": {"name": "obsAfrica"}, "mark": {"type": "line", "clip": true, "strokeWidth": 2.8},
             "encoding": {"color": {"datum": "Obs. Africa"}}}
          ]
        },
        {
          "width": 389, "height": 169,
          "title": {"text": "Amazon", "subtitle": ["model slope: 0.005", "observation slope: -0.016"]},
          "encoding": {
            "x": {"field": "t", "type": "quantitative", "title": "years",
                  "scale": {"domain": [1984, 2006], "nice": false, "zero": false},
                  "axis": {"values": [1985, 1987.5, 1990, 1992.5, 1995, 1997.5, 2000, 2002.5, 2005],
                           "labelExpr": "datum.value % 5 === 0 ? '' + datum.value : ''",
                           "tickOpacity": {"condition": {"test": "datum.value % 5 !== 0", "value": 0}, "value": 1},
                           "gridColor": {"condition": {"test": "datum.value % 5 !== 0", "value": "#efefef"}, "value": "#e3e3e3"},
                           "gridWidth": {"condition": {"test": "datum.value % 5 !== 0", "value": 0.9}, "value": 1.5}}},
            "y": {"field": "v", "type": "quantitative", "title": null,
                  "scale": {"domain": [-2.225, 2.725], "nice": false, "zero": false},
                  "axis": {"values": [-2, -1.5, -1, -0.5, 0, 0.5, 1, 1.5, 2, 2.5],
                           "labelExpr": "datum.value % 1 === 0 ? '' + datum.value : ''",
                           "tickOpacity": {"condition": {"test": "datum.value % 1 !== 0", "value": 0}, "value": 1},
                           "gridColor": {"condition": {"test": "datum.value % 1 !== 0", "value": "#efefef"}, "value": "#e3e3e3"},
                           "gridWidth": {"condition": {"test": "datum.value % 1 !== 0", "value": 0.9}, "value": 1.5}}}
          },
          "layer": [
            {"data": {"name": "mod5am"}, "mark": {"type": "line", "clip": true, "strokeWidth": 2.3, "opacity": 0.58},
             "encoding": {"detail": {"field": "m"}, "color": {"datum": "individual models"}}},
            {"data": {"name": "mmm5am"}, "mark": {"type": "line", "clip": true, "strokeWidth": 3},
             "encoding": {"color": {"datum": "MMM"}}},
            {"data": {"name": "obsAmazon"}, "mark": {"type": "line", "clip": true, "strokeWidth": 2.8},
             "encoding": {"color": {"datum": "Obs. Amazon"}}}
          ]
        }
      ]
    },
    {
      "title": {"text": "CMIP6", "fontSize": 25, "fontWeight": "bold", "anchor": "start", "frame": "bounds", "offset": 0, "dx": -8},
      "spacing": 21,
      "hconcat": [
        {
          "width": 407, "height": 169,
          "title": {"text": "Africa", "subtitle": ["model slope: 0.003", "observation slope: \u00a00.015"]},
          "encoding": {
            "x": {"field": "t", "type": "quantitative", "title": "years",
                  "scale": {"domain": [1984, 2006], "nice": false, "zero": false},
                  "axis": {"values": [1985, 1987.5, 1990, 1992.5, 1995, 1997.5, 2000, 2002.5, 2005],
                           "labelExpr": "datum.value % 5 === 0 ? '' + datum.value : ''",
                           "tickOpacity": {"condition": {"test": "datum.value % 5 !== 0", "value": 0}, "value": 1},
                           "gridColor": {"condition": {"test": "datum.value % 5 !== 0", "value": "#efefef"}, "value": "#e3e3e3"},
                           "gridWidth": {"condition": {"test": "datum.value % 5 !== 0", "value": 0.9}, "value": 1.5}}},
            "y": {"field": "v", "type": "quantitative", "title": ["Carbon net change", "(Mg C ha⁻¹ yr⁻¹)"],
                  "scale": {"domain": [-2.225, 2.725], "nice": false, "zero": false},
                  "axis": {"values": [-2, -1.5, -1, -0.5, 0, 0.5, 1, 1.5, 2, 2.5],
                           "labelExpr": "datum.value % 1 === 0 ? '' + datum.value : ''",
                           "tickOpacity": {"condition": {"test": "datum.value % 1 !== 0", "value": 0}, "value": 1},
                           "gridColor": {"condition": {"test": "datum.value % 1 !== 0", "value": "#efefef"}, "value": "#e3e3e3"},
                           "gridWidth": {"condition": {"test": "datum.value % 1 !== 0", "value": 0.9}, "value": 1.5}}}
          },
          "layer": [
            {"data": {"name": "mod6af"}, "mark": {"type": "line", "clip": true, "strokeWidth": 2.3, "opacity": 0.58},
             "encoding": {"detail": {"field": "m"}, "color": {"datum": "individual models"}}},
            {"data": {"name": "mmm6af"}, "mark": {"type": "line", "clip": true, "strokeWidth": 3},
             "encoding": {"color": {"datum": "MMM"}}},
            {"data": {"name": "obsAfrica"}, "mark": {"type": "line", "clip": true, "strokeWidth": 2.8},
             "encoding": {"color": {"datum": "Obs. Africa"}}}
          ]
        },
        {
          "width": 389, "height": 169,
          "title": {"text": "Amazon", "subtitle": ["model slope: 0.006", "observation slope: -0.016"]},
          "encoding": {
            "x": {"field": "t", "type": "quantitative", "title": "years",
                  "scale": {"domain": [1984, 2006], "nice": false, "zero": false},
                  "axis": {"values": [1985, 1987.5, 1990, 1992.5, 1995, 1997.5, 2000, 2002.5, 2005],
                           "labelExpr": "datum.value % 5 === 0 ? '' + datum.value : ''",
                           "tickOpacity": {"condition": {"test": "datum.value % 5 !== 0", "value": 0}, "value": 1},
                           "gridColor": {"condition": {"test": "datum.value % 5 !== 0", "value": "#efefef"}, "value": "#e3e3e3"},
                           "gridWidth": {"condition": {"test": "datum.value % 5 !== 0", "value": 0.9}, "value": 1.5}}},
            "y": {"field": "v", "type": "quantitative", "title": null,
                  "scale": {"domain": [-2.225, 2.725], "nice": false, "zero": false},
                  "axis": {"values": [-2, -1.5, -1, -0.5, 0, 0.5, 1, 1.5, 2, 2.5],
                           "labelExpr": "datum.value % 1 === 0 ? '' + datum.value : ''",
                           "tickOpacity": {"condition": {"test": "datum.value % 1 !== 0", "value": 0}, "value": 1},
                           "gridColor": {"condition": {"test": "datum.value % 1 !== 0", "value": "#efefef"}, "value": "#e3e3e3"},
                           "gridWidth": {"condition": {"test": "datum.value % 1 !== 0", "value": 0.9}, "value": 1.5}}}
          },
          "layer": [
            {"data": {"name": "mod6am"}, "mark": {"type": "line", "clip": true, "strokeWidth": 2.3, "opacity": 0.58},
             "encoding": {"detail": {"field": "m"}, "color": {"datum": "individual models"}}},
            {"data": {"name": "mmm6am"}, "mark": {"type": "line", "clip": true, "strokeWidth": 3},
             "encoding": {"color": {"datum": "MMM"}}},
            {"data": {"name": "obsAmazon"}, "mark": {"type": "line", "clip": true, "strokeWidth": 2.8},
             "encoding": {"color": {"datum": "Obs. Amazon"}}}
          ]
        }
      ]
    }
  ]
}
